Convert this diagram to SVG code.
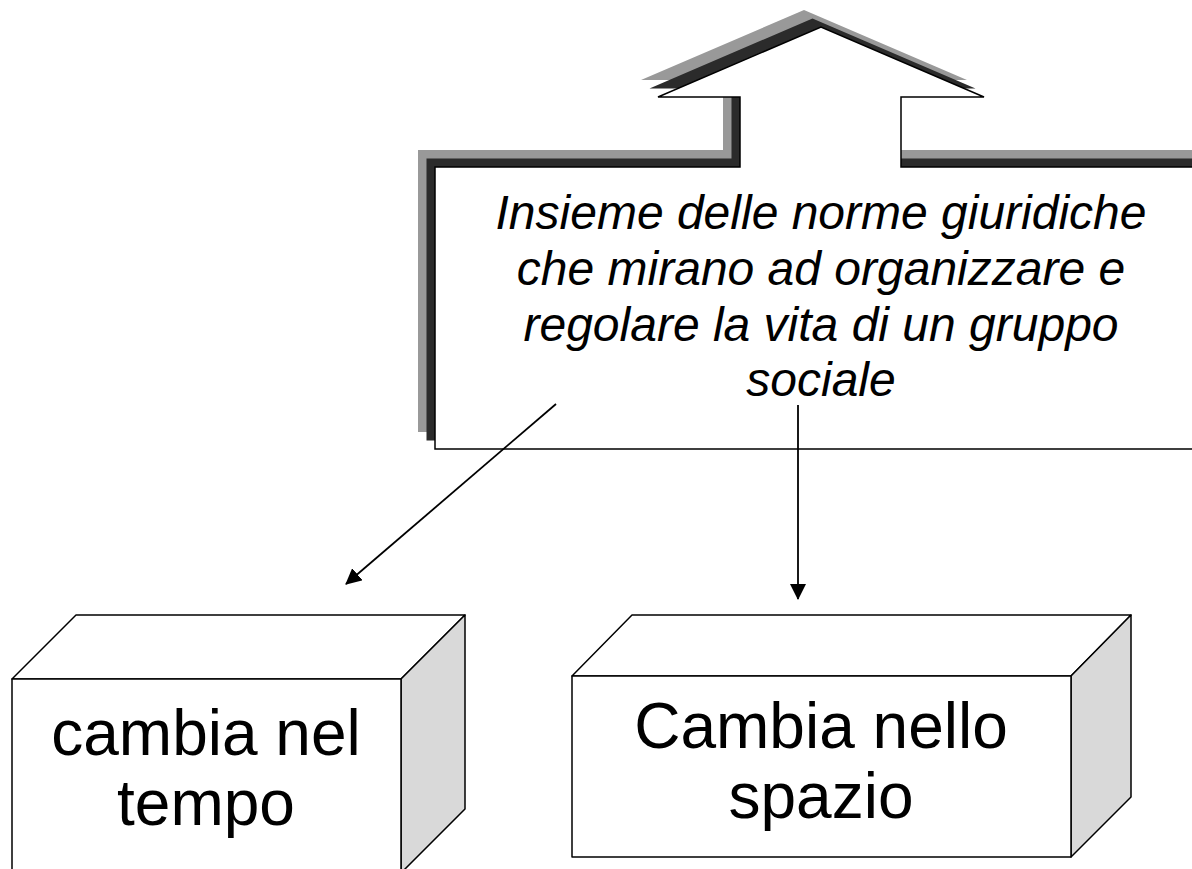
<svg xmlns="http://www.w3.org/2000/svg" width="1192" height="869" viewBox="0 0 1192 869">
  <defs>
    <marker id="arr" markerWidth="16" markerHeight="16" refX="15" refY="8" orient="auto" markerUnits="userSpaceOnUse">
      <path d="M0,0 L16,8 L0,16 Z" fill="#000"/>
    </marker>
    <polygon id="callout" points="435,167 740,167 740,97 658,97 821,27 984,97 901,97 901,167 1210,167 1210,449 435,449"/>
  </defs>
  <style>
    .main{fill:#fff;stroke:#000;stroke-width:1.5}
    .face{fill:#fff;stroke:#000;stroke-width:1.5;stroke-linejoin:round}
    .side{fill:#d9d9d9;stroke:#000;stroke-width:1.5;stroke-linejoin:round}
    .conn{stroke:#000;stroke-width:1.8;fill:none}
    .it{font-family:"Liberation Sans",Arial,sans-serif;font-style:italic;font-size:48px;fill:#000;text-anchor:middle}
    .bx{font-family:"Liberation Sans",Arial,sans-serif;font-size:64px;fill:#000;text-anchor:middle}
  </style>
  <rect width="1192" height="869" fill="#fff"/>
  <g id="node-callout">
    <use href="#callout" transform="translate(-17,-17)" fill="#999999"/>
    <use href="#callout" transform="translate(-8.5,-8.5)" fill="#2b2b2b"/>
    <use href="#callout" class="main"/>
    <text class="it" x="821" y="229">Insieme delle norme giuridiche</text>
    <text class="it" x="821" y="285">che mirano ad organizzare e</text>
    <text class="it" x="821" y="341">regolare la vita di un gruppo</text>
    <text class="it" x="821" y="396">sociale</text>
  </g>
  <g id="node-tempo">
    <polygon class="face" points="12,679 76,615 465,615 401,679"/>
    <polygon class="side" points="401,679 465,615 465,809 401,873"/>
    <rect class="face" x="12" y="679" width="389" height="220"/>
    <text class="bx" x="206" y="755">cambia nel</text>
    <text class="bx" x="206" y="825">tempo</text>
  </g>
  <g id="node-spazio">
    <polygon class="face" points="572,676 632,615 1131,615 1071,676"/>
    <polygon class="side" points="1071,676 1131,615 1131,797 1071,857"/>
    <rect class="face" x="572" y="676" width="499" height="181"/>
    <text class="bx" x="821" y="748">Cambia nello</text>
    <text class="bx" x="821" y="818">spazio</text>
  </g>
  <g id="connectors">
    <line class="conn" x1="556" y1="404" x2="346" y2="584" marker-end="url(#arr)"/>
    <line class="conn" x1="798" y1="405" x2="798" y2="599" marker-end="url(#arr)"/>
  </g>
</svg>
